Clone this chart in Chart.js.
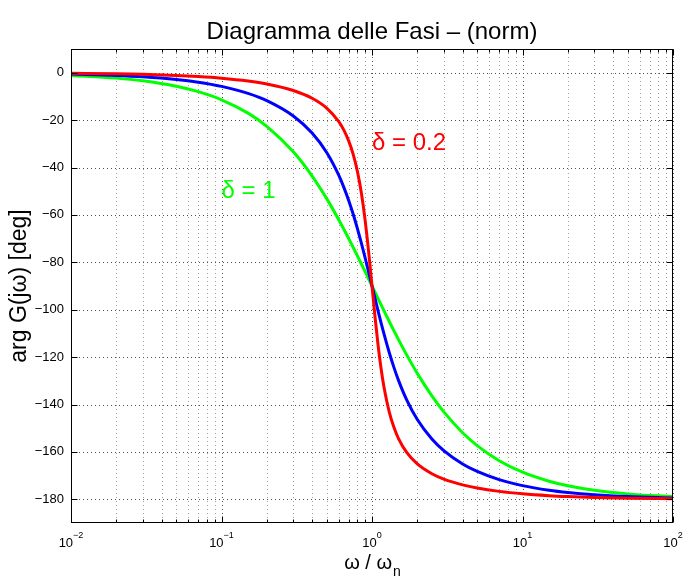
<!DOCTYPE html>
<html><head><meta charset="utf-8">
<script src="https://cdn.jsdelivr.net/npm/chart.js@4"></script>
<style>html,body{margin:0;padding:0;background:#fff}canvas{display:block}</style>
</head><body>
<canvas id="c" width="692" height="578"></canvas>
<script>
// normalised frequency omega / omega_n
const omega = [0.01,0.02,0.03,0.05,0.07,0.1,0.15,0.2,0.3,0.4,0.5,0.6,0.65,0.7,0.75,0.8,0.85,0.9,0.95,1,1.05,1.1,1.15,1.2,1.3,1.4,1.5,1.7,2,2.5,3,4,5,7,10,15,20,30,50,100];
// phase [deg], delta = 0.2 (red)
const phaseDelta02 = [-0.23,-0.46,-0.69,-1.15,-1.61,-2.31,-3.51,-4.76,-7.51,-10.78,-14.93,-20.56,-24.24,-28.77,-34.44,-41.63,-50.78,-62.18,-75.61,-90,-103.71,-115.52,-125.03,-132.51,-143.0,-149.74,-154.36,-160.21,-165.07,-169.22,-171.47,-173.91,-175.24,-176.66,-177.69,-178.47,-178.85,-179.24,-179.54,-179.77];
// phase [deg], delta = 0.5 (blue)
const phaseDelta05 = [-0.57,-1.15,-1.72,-2.87,-4.02,-5.77,-8.72,-11.77,-18.25,-25.46,-33.69,-43.15,-48.38,-53.92,-59.74,-65.77,-71.92,-78.08,-84.14,-90,-95.58,-100.81,-105.66,-110.14,-117.95,-124.44,-129.81,-138.03,-146.31,-154.54,-159.44,-165.07,-168.23,-171.70,-174.23,-176.17,-177.13,-178.09,-178.85,-179.43];
// phase [deg], delta = 1 (green)
const phaseDelta1 = [-1.15,-2.29,-3.44,-5.73,-8.01,-11.42,-17.06,-22.62,-33.40,-43.60,-53.13,-61.93,-66.05,-70.0,-73.74,-77.32,-80.73,-83.97,-87.06,-90,-92.79,-95.45,-97.98,-100.39,-104.86,-108.92,-112.62,-119.07,-126.87,-136.40,-143.13,-151.93,-157.38,-163.74,-168.58,-172.37,-174.28,-176.18,-177.71,-178.85];

const yTicks = [0,-20,-40,-60,-80,-100,-120,-140,-160,-180];
const yTickLabels = ['0','\u221220','\u221240','\u221260','\u221280','\u2212100','\u2212120','\u2212140','\u2212160','\u2212180'];
const xMajorTicks = [0.01,0.1,1,10,100];
const xTickExponents = ['\u22122','\u22121','0','1','2'];
const titleText = 'Diagramma delle Fasi \u2013 (norm)';
const yLabelText = 'arg G(j\u03c9) [deg]';
const xLabelMain = '\u03c9 / \u03c9';
const xLabelSub = 'n';
const annotations = [
  {x: 1, y: -30, text: '\u03b4 = 0.2', color: '#ff0000'},
  {x: 0.1, y: -50, text: '\u03b4 = 1', color: '#00ff00'}
];

const FONT = '"Liberation Sans", Arial, Helvetica, sans-serif';

function mk(arr){ return omega.map((w,i)=>({x:w, y:arr[i]})); }

const minorX = [];
for (let d = -2; d <= 1; d++) for (let k = 2; k <= 9; k++) minorX.push(k*Math.pow(10,d));

const decor = {
  id: 'decor',
  beforeDatasetsDraw(chart){
    const {ctx, chartArea:a, scales:{x, y}} = chart;
    ctx.save();
    ctx.lineWidth = 1;
    ctx.setLineDash([1,3]);
    ctx.strokeStyle = '#a0a0a0';
    minorX.forEach(v=>{
      const px = Math.round(x.getPixelForValue(v)) + 0.5;
      ctx.beginPath(); ctx.moveTo(px, a.top); ctx.lineTo(px, a.bottom); ctx.stroke();
    });
    ctx.strokeStyle = '#505050';
    xMajorTicks.forEach(v=>{
      const px = Math.round(x.getPixelForValue(v)) + 0.5;
      ctx.beginPath(); ctx.moveTo(px, a.top); ctx.lineTo(px, a.bottom); ctx.stroke();
    });
    yTicks.forEach(v=>{
      const py = Math.round(y.getPixelForValue(v)) + 0.5;
      ctx.beginPath(); ctx.moveTo(a.left, py); ctx.lineTo(a.right, py); ctx.stroke();
    });
    ctx.restore();
  },
  afterDatasetsDraw(chart){
    const {ctx, chartArea:a, scales:{x, y}} = chart;
    ctx.save();
    ctx.strokeStyle = '#000'; ctx.lineWidth = 1; ctx.setLineDash([]);
    const L = Math.round(a.left)+0.5, R = Math.round(a.right)-0.5, T = Math.round(a.top)+0.5, B = Math.round(a.bottom)-0.5;
    ctx.strokeRect(L, T, R-L, B-T);
    ctx.beginPath();
    xMajorTicks.forEach(v=>{
      const px = Math.round(x.getPixelForValue(v))+0.5;
      ctx.moveTo(px,B); ctx.lineTo(px,B-6); ctx.moveTo(px,T); ctx.lineTo(px,T+6);
    });
    minorX.forEach(v=>{
      const px = Math.round(x.getPixelForValue(v))+0.5;
      ctx.moveTo(px,B); ctx.lineTo(px,B-3); ctx.moveTo(px,T); ctx.lineTo(px,T+3);
    });
    yTicks.forEach(v=>{
      const py = Math.round(y.getPixelForValue(v))+0.5;
      ctx.moveTo(L,py); ctx.lineTo(L+6,py); ctx.moveTo(R,py); ctx.lineTo(R-6,py);
    });
    ctx.stroke();
    ctx.fillStyle = '#000';
    ctx.font = '13px ' + FONT;
    ctx.textAlign = 'right'; ctx.textBaseline = 'middle';
    yTicks.forEach((v,i)=>{ ctx.fillText(yTickLabels[i], a.left-7, y.getPixelForValue(v)); });
    ctx.textBaseline = 'alphabetic'; ctx.textAlign = 'left';
    xMajorTicks.forEach((v,i)=>{
      ctx.font = '13px ' + FONT;
      const wb = ctx.measureText('10').width;
      ctx.font = '9px ' + FONT;
      const we = ctx.measureText(xTickExponents[i]).width;
      const px = x.getPixelForValue(v);
      const x0 = px - (wb+we)/2;
      ctx.font = '13px ' + FONT;
      ctx.fillText('10', x0, a.bottom+24);
      ctx.font = '9px ' + FONT;
      ctx.fillText(xTickExponents[i], x0+wb, a.bottom+15);
    });
    ctx.font = '24px ' + FONT; ctx.textBaseline = 'middle'; ctx.textAlign = 'left';
    annotations.forEach(an=>{
      ctx.fillStyle = an.color;
      ctx.fillText(an.text, x.getPixelForValue(an.x), y.getPixelForValue(an.y));
    });
    ctx.fillStyle = '#000';
    ctx.font = '24px ' + FONT; ctx.textAlign = 'center'; ctx.textBaseline = 'alphabetic';
    ctx.fillText(titleText, (a.left+a.right)/2, 39);
    ctx.font = '20px ' + FONT;
    const wm = ctx.measureText(xLabelMain).width;
    ctx.font = '14px ' + FONT;
    const ws = ctx.measureText(xLabelSub).width;
    const xl = (a.left+a.right)/2 - (wm+ws)/2;
    ctx.textAlign = 'left';
    ctx.font = '20px ' + FONT;
    ctx.fillText(xLabelMain, xl, 569);
    ctx.font = '14px ' + FONT;
    ctx.fillText(xLabelSub, xl+wm+1, 576);
    ctx.translate(26, (a.top+a.bottom)/2);
    ctx.rotate(-Math.PI/2);
    ctx.font = '23px ' + FONT; ctx.textAlign = 'center'; ctx.textBaseline = 'alphabetic';
    ctx.fillText(yLabelText, 0, 0);
    ctx.restore();
  }
};

new Chart(document.getElementById('c'), {
  type: 'line',
  data: {
    datasets: [
      {label: '\u03b4 = 0.2', data: mk(phaseDelta02), borderColor: '#ff0000'},
      {label: '\u03b4 = 0.5', data: mk(phaseDelta05), borderColor: '#0000ff'},
      {label: '\u03b4 = 1', data: mk(phaseDelta1), borderColor: '#00ff00'}
    ]
  },
  options: {
    responsive: false, animation: false, devicePixelRatio: 1,
    layout: {padding: {left: 71, top: 49, right: 19, bottom: 55}},
    plugins: {legend: {display: false}, tooltip: {enabled: false}, title: {display: false}},
    elements: {point: {radius: 0}, line: {borderWidth: 3, cubicInterpolationMode: 'monotone', fill: false}},
    scales: {
      x: {type: 'logarithmic', min: 0.01, max: 100, ticks: {display: false}, grid: {display: false}, border: {display: false}, afterFit(s){ s.height = 0; }},
      y: {type: 'linear', min: -190, max: 10, ticks: {display: false}, grid: {display: false}, border: {display: false}, afterFit(s){ s.width = 0; }}
    }
  },
  plugins: [decor]
});
</script>
</body></html>
